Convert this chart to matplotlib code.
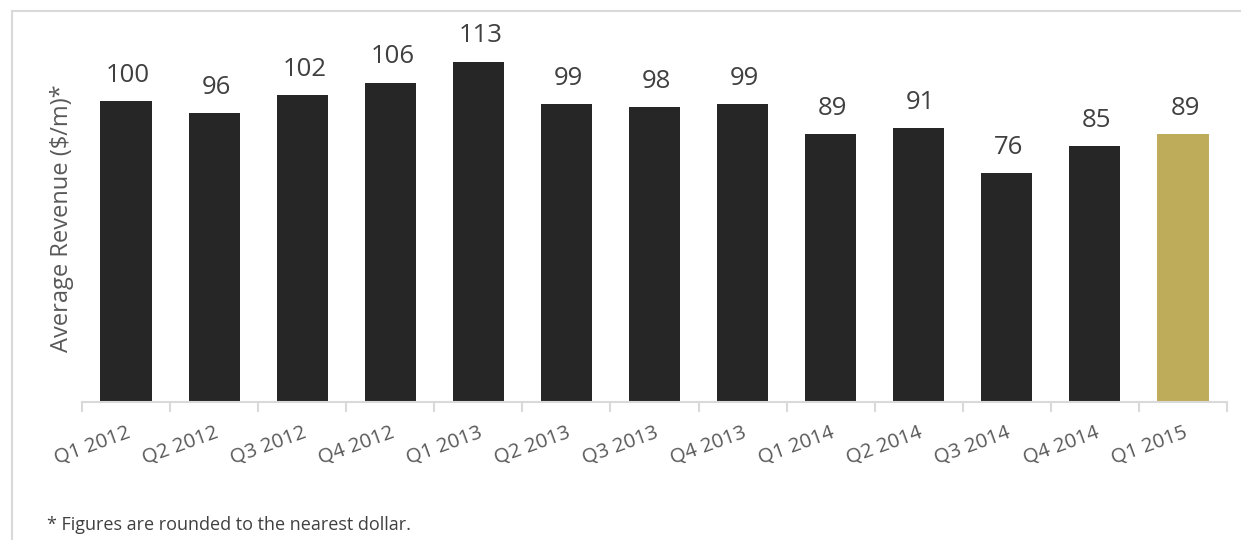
import matplotlib
matplotlib.use("Agg")
import matplotlib.pyplot as plt
from matplotlib.patches import Rectangle
from matplotlib.transforms import ScaledTranslation

categories = ["Q1 2012", "Q2 2012", "Q3 2012", "Q4 2012", "Q1 2013", "Q2 2013", "Q3 2013",
              "Q4 2013", "Q1 2014", "Q2 2014", "Q3 2014", "Q4 2014", "Q1 2015"]
values = [100, 96, 102, 106, 113, 99, 98, 99, 89, 91, 76, 85, 89]
ylabel = "Average Revenue ($/m)*"
footnote = "* Figures are rounded to the nearest dollar."

plt.rcParams['font.family'] = ['Open Sans', 'DejaVu Sans']
W, H = 1241, 540
fig = plt.figure(figsize=(W / 100, H / 100), dpi=100)

# outer frame (cropped on right and bottom)
fig.patches.append(Rectangle((12 / W, -0.2), 2.0, 1.2 - 11 / H, transform=fig.transFigure,
                             fill=False, edgecolor="#d9d9d9", linewidth=1.5))

ax = fig.add_axes([82 / W, 1 - 402 / H, (1227 - 82) / W, (402 - 20) / H])
colors = ["#262626"] * (len(values) - 1) + ["#BFAC5A"]
x = list(range(len(categories)))
ax.bar(x, values, width=0.58, color=colors)
ax.set_xlim(-0.5, len(categories) - 0.5)
ax.set_ylim(0, 382 / 3.01)

for xi, v in zip(x, values):
    ax.annotate(str(v), (xi, v), xytext=(1.5, 14), textcoords="offset points",
                ha="center", va="baseline", fontsize=18.5, color="#404040")

for s in ["top", "left", "right"]:
    ax.spines[s].set_visible(False)
ax.spines["bottom"].set_color("#d9d9d9")
ax.spines["bottom"].set_linewidth(1.5)
ax.set_yticks([])
ax.set_xticks(x)
ax.set_xticklabels(categories, rotation=20, ha="right", va="top", rotation_mode="anchor",
                   fontsize=14.7, color="#595959")
shift = ScaledTranslation(-4 / 100, 0, fig.dpi_scale_trans)
for lab in ax.get_xticklabels():
    lab.set_transform(lab.get_transform() + shift)
ax.tick_params(axis="x", which="major", length=0, pad=15)
ax.set_xticks([i - 0.5 for i in range(len(categories) + 1)], minor=True)
ax.tick_params(axis="x", which="minor", length=7, width=1.5, color="#d9d9d9")

ax.set_ylabel(ylabel, fontsize=17, color="#595959", ha="center", va="center")
ax.yaxis.set_label_coords(62 / W, 1 - 218 / H, transform=fig.transFigure)

fig.text(47 / W, 1 - 525 / H, footnote, fontsize=13, color="#404040", va="center", ha="left")

fig.savefig("out.png", dpi=100)
